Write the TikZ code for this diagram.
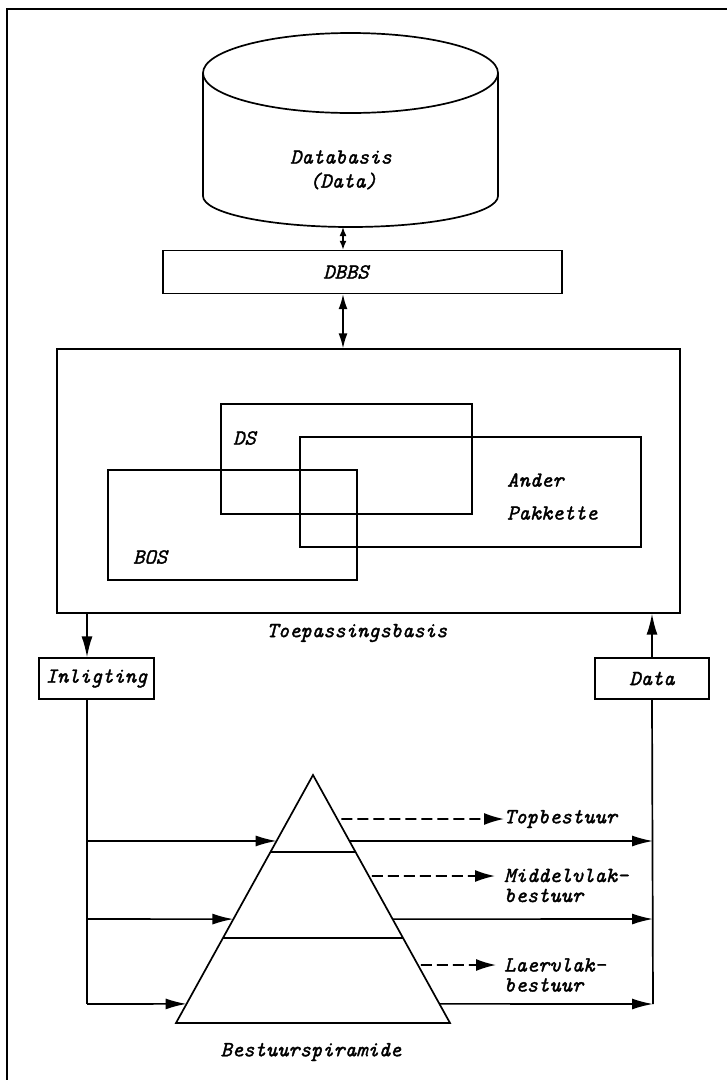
\documentclass[tikz,border=0pt]{standalone}
\usepackage{fontspec}
\newfontfamily\reffont{lmmono10-italic.otf}[FakeBold=1.6]
\usetikzlibrary{arrows.meta,calc}
\begin{document}
\begin{tikzpicture}[x=1pt,y=-1pt,
  ln/.style={line width=1.7pt},
  bx/.style={draw, line width=1.4pt, inner sep=0pt},
  lbl/.style={font=\fontsize{21.5}{20}\selectfont\reffont, inner sep=0pt},
  tip/.style={line width=1.6pt, -{Latex[length=21pt,width=11pt]}},
  dtipA/.style={line width=1.6pt, {Latex[length=9pt,width=7pt]}-{Latex[length=9pt,width=7pt]}},
  dtipB/.style={line width=1.6pt, {Latex[length=15pt,width=9pt]}-{Latex[length=15pt,width=9pt]}},
  dsh/.style={line width=1.7pt, dash pattern=on 11pt off 5pt, -{Latex[length=20pt,width=12pt]}}]
\useasboundingbox (0,0) rectangle (727,1080);
% frame
\draw[ln] (7,1080) -- (7,9) -- (727,9);
% cylinder
\draw[ln] (350.5,73) ellipse [x radius=147.5pt, y radius=40pt];
\draw[ln] (203,73) -- (203,196) arc[start angle=180, end angle=360, x radius=147.5pt, y radius=31pt] -- (498,73);
\node[lbl] (db1) at (341,157) {Databasis};
\node[lbl] (db2) at (343,181) {(Data)};
\coordinate (cb) at (343,227);
% DBBS
\node[bx, minimum width=399pt, minimum height=43pt] (dbbs) at (362.5,272) {};
\node[lbl] (dbbst) at (346,272) {DBBS};
% Toepassingsbasis
\node[bx, minimum width=623pt, minimum height=264pt] (toep) at (368.5,481) {};
\node[bx, minimum width=251pt, minimum height=110pt] (ds) at (346.5,459) {};
\node[bx, minimum width=341pt, minimum height=110pt] (ander) at (470.5,492) {};
\node[bx, minimum width=249pt, minimum height=110pt] (bos) at (232.5,525) {};
\node[lbl, anchor=west] (dst) at (233,438) {DS};
\node[lbl, anchor=west] (andt) at (507,480) {Ander};
\node[lbl, anchor=west] (pakt) at (507,513) {Pakkette};
\node[lbl, anchor=west] (bost) at (133,557) {BOS};
\node[lbl] (toept) at (357,633) {Toepassingsbasis};
\draw[dtipA] (cb) -- (cb |- dbbs.north);
\draw[dtipB] (cb |- dbbs.south) -- (cb |- toep.north);
% Inligting / Data
\node[bx, lbl, draw, inner sep=0pt, minimum width=115pt, minimum height=41pt] (inl) at (96.5,678.5) {Inligting};
\node[bx, lbl, draw, inner sep=0pt, minimum width=114pt, minimum height=41pt] (dat) at (652,678.5) {Data};
\coordinate (la) at (87,613);
\draw[tip] (la) -- (la |- inl.north);
\draw[tip] (dat.north) -- (dat.north |- toep.south);
% pyramid
\coordinate (ap) at (313,775);
\coordinate (bl) at (176,1023);
\coordinate (br) at (450,1023);
\draw[ln, line join=miter] (ap) -- (bl) -- (br) -- cycle;
\draw[ln] ($(ap)!0.3105!(bl)$) -- ($(ap)!0.3105!(br)$);
\draw[ln] ($(ap)!0.657!(bl)$) -- ($(ap)!0.657!(br)$);
% left/right rails
\coordinate (lb) at (87,1004);
\coordinate (rb) at (653,1004);
\draw[ln] (la |- inl.south) -- (lb);
\draw[ln] (dat.south) -- (rb);
% arrows into and out of pyramid
\coordinate (l1) at (87,841);  \coordinate (r1) at (653,841);
\coordinate (l2) at (87,919);  \coordinate (r2) at (653,919);
\draw[tip] (l1) -- ($(ap)!0.266!(bl)$);
\draw[tip] ($(ap)!0.266!(br)$) -- (r1);
\draw[tip] (l2) -- ($(ap)!0.581!(bl)$);
\draw[tip] ($(ap)!0.581!(br)$) -- (r2);
\draw[tip] (lb) -- ($(ap)!0.923!(bl)$);
\draw[tip] ($(ap)!0.923!(br)$) -- (rb);
% dashed arrows and labels
\node[lbl, anchor=west] (top) at (504,819) {Topbestuur};
\node[lbl, anchor=west, align=left] (mid) at (504,885.5) {Middelvlak-\\bestuur};
\node[lbl, anchor=west, align=left] (low) at (504,975) {Laervlak-\\bestuur};
\draw[dsh] ($(ap)!0.177!(br)+(4,0)$) -- (top.west);
\draw[dsh] ($(ap)!0.407!(br)+(3,0)$) -- (495,876);
\draw[dsh] ($(ap)!0.766!(br)+(3,0)$) -- (496,965);
\node[lbl] (pyr) at (311,1052) {Bestuurspiramide};
\end{tikzpicture}
\end{document}
